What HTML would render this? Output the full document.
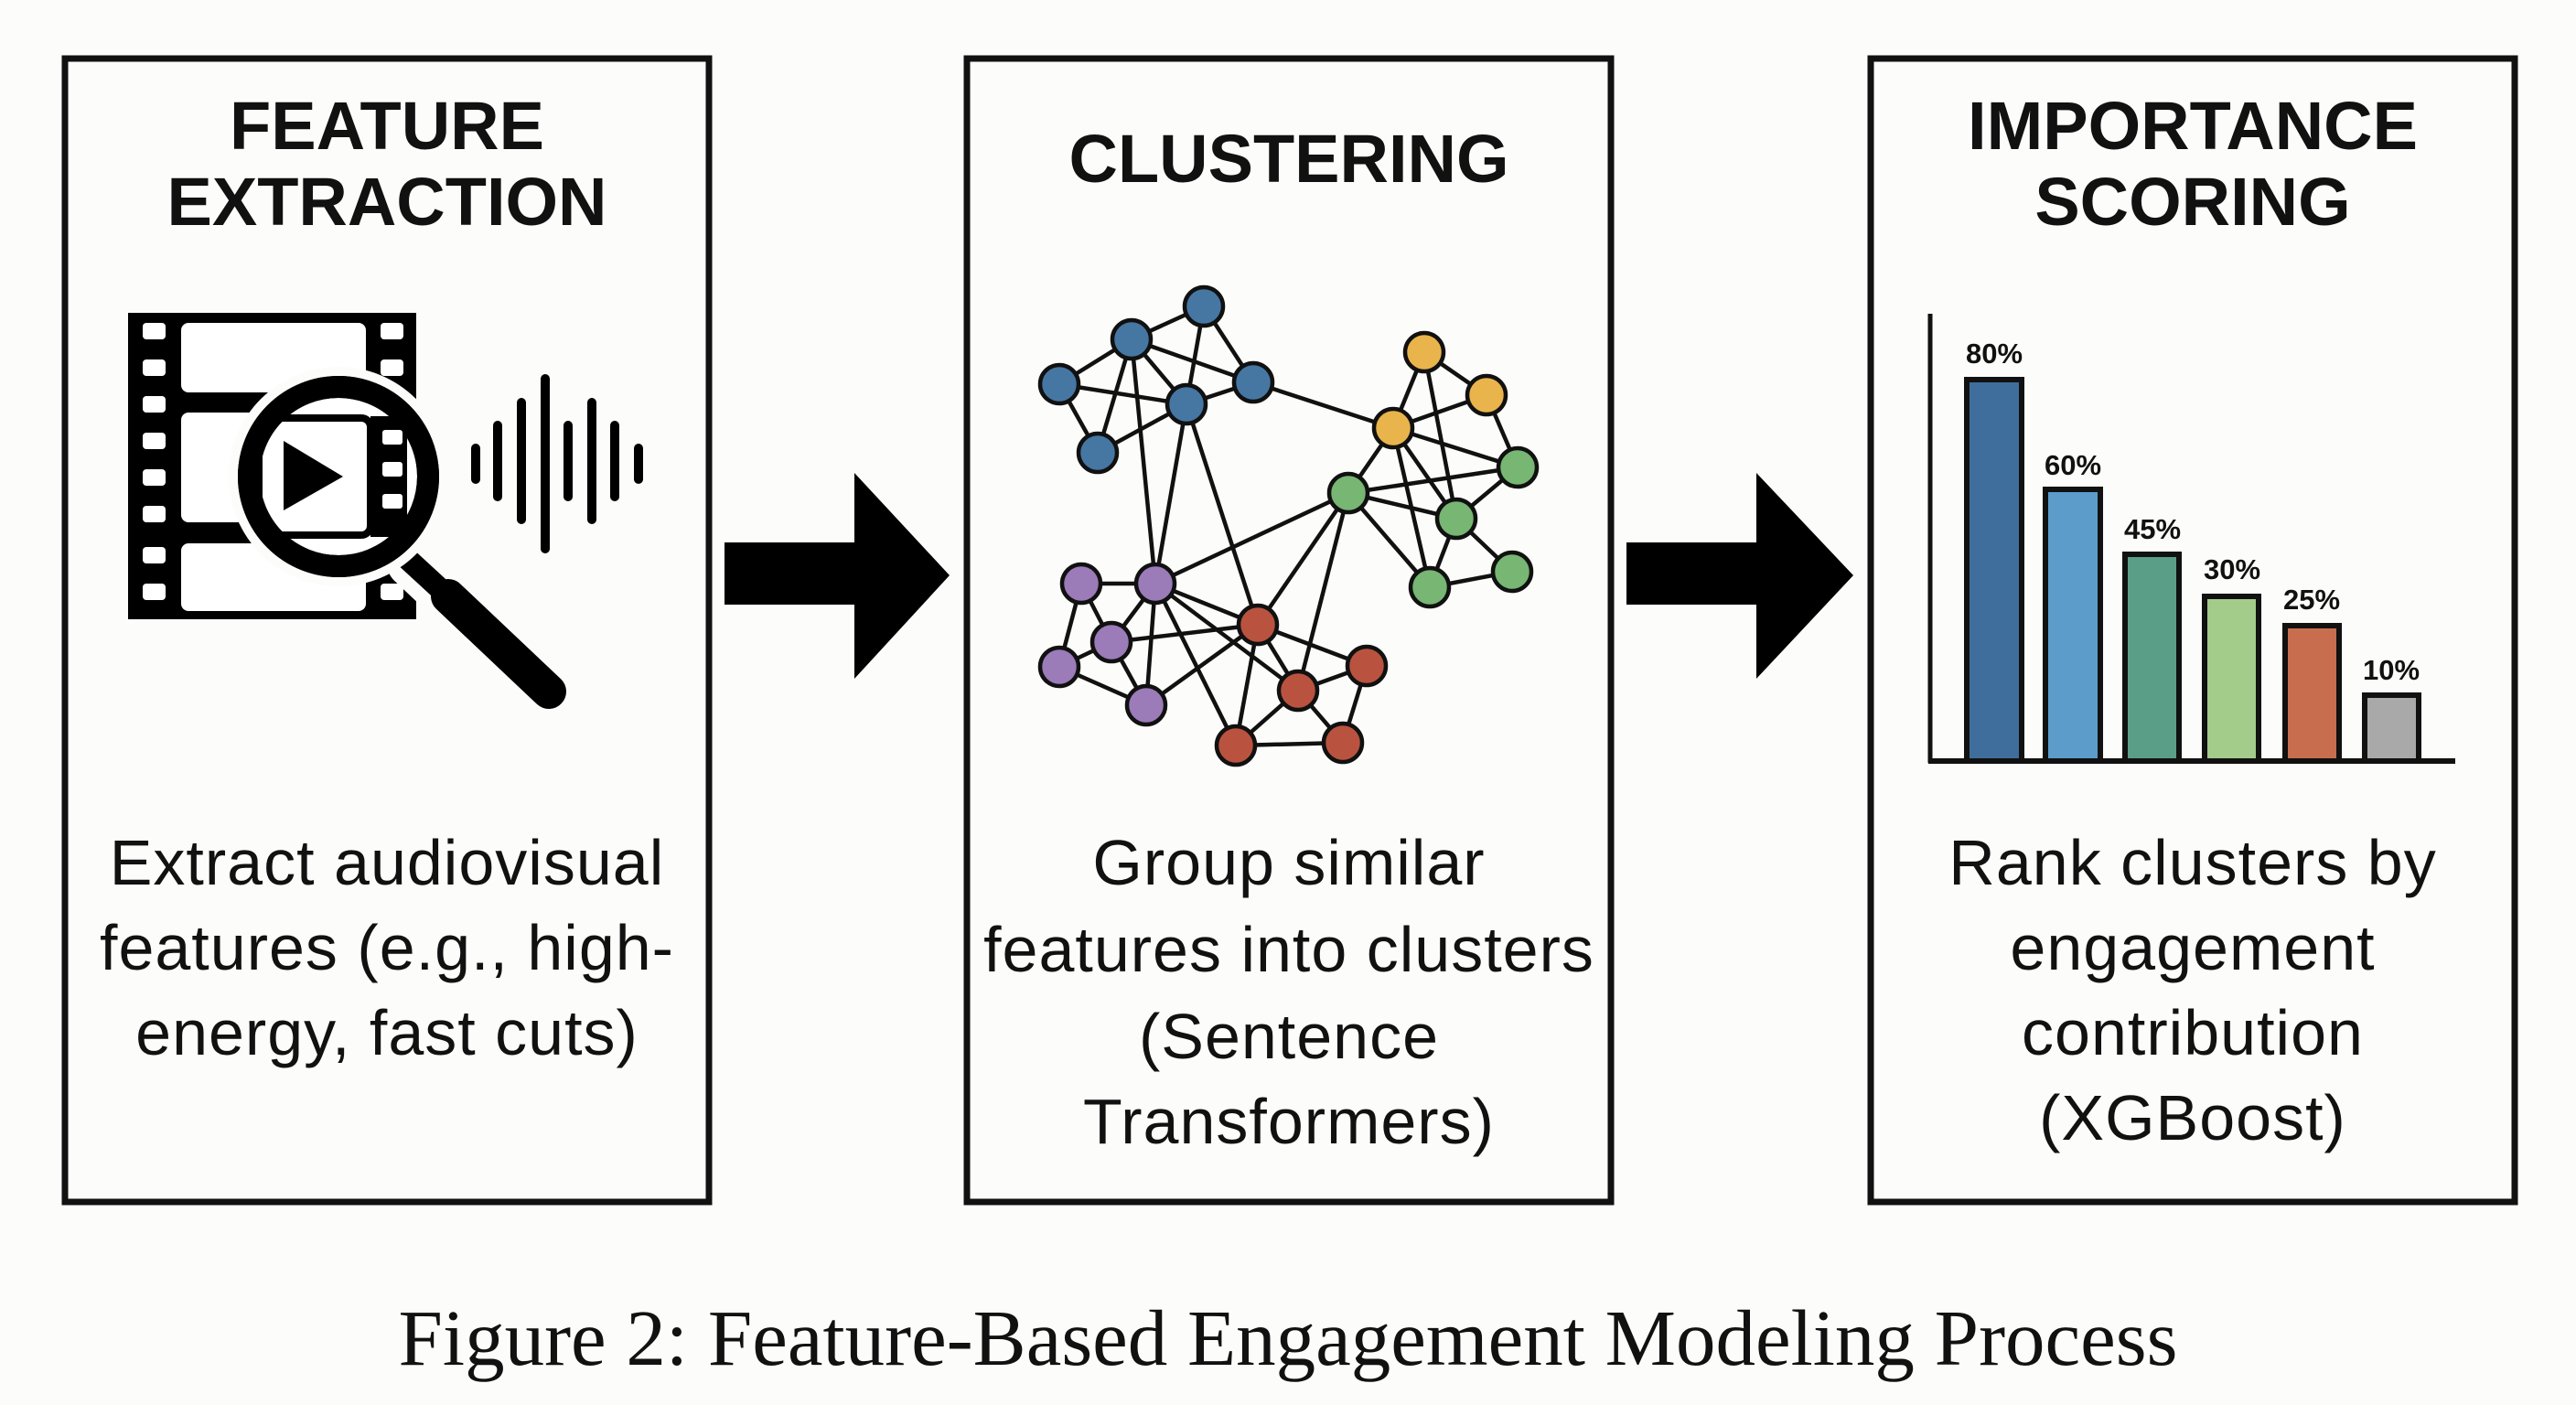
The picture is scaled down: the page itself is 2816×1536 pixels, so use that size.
<!DOCTYPE html>
<html><head><meta charset="utf-8"><style>
html,body{margin:0;padding:0;background:#fcfcfa;}
svg{display:block;}
.t{font-family:"Liberation Sans",Arial,sans-serif;font-weight:bold;font-size:74px;text-anchor:middle;fill:#111;}
.b{font-family:"Liberation Sans",Arial,sans-serif;font-size:70px;text-anchor:middle;fill:#111;letter-spacing:1px;}
.p{font-family:"Liberation Sans",Arial,sans-serif;font-weight:bold;font-size:31px;text-anchor:middle;fill:#111;}
.c{font-family:"Liberation Serif","Times New Roman",serif;font-size:87px;text-anchor:middle;fill:#111;}
</style></head><body>
<svg width="2816" height="1536" viewBox="0 0 2816 1536" xmlns="http://www.w3.org/2000/svg">
<rect width="2816" height="1536" fill="#fcfcfa"/>
<g fill="none" stroke="#111" stroke-width="7">
<rect x="71" y="64" width="704" height="1250"/>
<rect x="1057" y="64" width="704" height="1250"/>
<rect x="2045" y="64" width="704" height="1250"/>
</g>
<polygon points="792,593 934,593 934,517 1038,629 934,742 934,661 792,661" fill="#000"/>
<polygon points="1778,593 1920,593 1920,517 2026,629 1920,742 1920,661 1778,661" fill="#000"/>
<text class="t" x="423" y="163">FEATURE</text>
<text class="t" x="423" y="246">EXTRACTION</text>
<text class="t" x="1409" y="199">CLUSTERING</text>
<text class="t" x="2397" y="163">IMPORTANCE</text>
<text class="t" x="2397" y="246">SCORING</text>
<text class="b" x="423" y="967">Extract audiovisual</text>
<text class="b" x="423" y="1060">features (e.g., high-</text>
<text class="b" x="423" y="1153">energy, fast cuts)</text>
<text class="b" x="1409" y="967">Group similar</text>
<text class="b" x="1409" y="1062">features into clusters</text>
<text class="b" x="1409" y="1157">(Sentence</text>
<text class="b" x="1409" y="1250">Transformers)</text>
<text class="b" x="2397" y="967">Rank clusters by</text>
<text class="b" x="2397" y="1060">engagement</text>
<text class="b" x="2397" y="1153">contribution</text>
<text class="b" x="2397" y="1246">(XGBoost)</text>
<text class="c" x="1408" y="1492">Figure 2: Feature-Based Engagement Modeling Process</text>

<rect x="140" y="342" width="315" height="335" fill="#000"/>
<g fill="#fff">
<rect x="156" y="353" width="25" height="18" rx="4"/>
<rect x="156" y="393" width="25" height="18" rx="4"/>
<rect x="156" y="433" width="25" height="18" rx="4"/>
<rect x="156" y="473" width="25" height="18" rx="4"/>
<rect x="156" y="513" width="25" height="18" rx="4"/>
<rect x="156" y="553" width="25" height="18" rx="4"/>
<rect x="156" y="598" width="25" height="18" rx="4"/>
<rect x="156" y="638" width="25" height="18" rx="4"/>
<rect x="416" y="353" width="25" height="18" rx="4"/>
<rect x="416" y="393" width="25" height="18" rx="4"/>
<rect x="416" y="638" width="25" height="18" rx="4"/>
<rect x="198" y="353" width="202" height="76" rx="8"/>
<rect x="198" y="451" width="202" height="120" rx="8"/>
<rect x="198" y="594" width="202" height="74" rx="8"/>
</g>
<line x1="449" y1="616" x2="600" y2="758" stroke="#fcfcfa" stroke-width="52" stroke-linecap="round"/>
<line x1="440" y1="606" x2="490" y2="652" stroke="#000" stroke-width="24"/>
<line x1="490" y1="652" x2="600" y2="756" stroke="#000" stroke-width="38" stroke-linecap="round"/>
<circle cx="370" cy="521" r="120" fill="#fcfcfa"/>
<circle cx="370" cy="521" r="98" fill="#fff" stroke="#000" stroke-width="24"/>
<rect x="283" y="457" width="122" height="128" rx="10" fill="none" stroke="#000" stroke-width="8"/>
<rect x="405" y="455" width="40" height="132" fill="#000"/>
<rect x="418" y="470" width="22" height="16" rx="3" fill="#fff"/>
<rect x="418" y="505" width="22" height="16" rx="3" fill="#fff"/>
<rect x="418" y="540" width="22" height="16" rx="3" fill="#fff"/>
<circle cx="370" cy="521" r="98" fill="none" stroke="#000" stroke-width="24"/>
<polygon points="310,482 310,558 375,521" fill="#000"/>
<g stroke="#000" stroke-width="10" stroke-linecap="round">
<line x1="520" y1="490" x2="520" y2="524"/>
<line x1="544" y1="465" x2="544" y2="543"/>
<line x1="570" y1="440" x2="570" y2="568"/>
<line x1="596" y1="414" x2="596" y2="600"/>
<line x1="621" y1="465" x2="621" y2="543"/>
<line x1="647" y1="440" x2="647" y2="568"/>
<line x1="672" y1="465" x2="672" y2="543"/>
<line x1="698" y1="490" x2="698" y2="524"/>
</g>

<g stroke="#111" stroke-width="4.5">
<line x1="1237" y1="371" x2="1316" y2="335"/>
<line x1="1316" y1="335" x2="1297" y2="442"/>
<line x1="1316" y1="335" x2="1370" y2="418"/>
<line x1="1237" y1="371" x2="1158" y2="420"/>
<line x1="1237" y1="371" x2="1297" y2="442"/>
<line x1="1237" y1="371" x2="1370" y2="418"/>
<line x1="1237" y1="371" x2="1200" y2="495"/>
<line x1="1158" y1="420" x2="1297" y2="442"/>
<line x1="1158" y1="420" x2="1200" y2="495"/>
<line x1="1200" y1="495" x2="1297" y2="442"/>
<line x1="1297" y1="442" x2="1370" y2="418"/>
<line x1="1237" y1="371" x2="1263" y2="638"/>
<line x1="1297" y1="442" x2="1263" y2="638"/>
<line x1="1297" y1="442" x2="1375" y2="683"/>
<line x1="1370" y1="418" x2="1523" y2="468"/>
<line x1="1557" y1="385" x2="1625" y2="432"/>
<line x1="1557" y1="385" x2="1523" y2="468"/>
<line x1="1557" y1="385" x2="1592" y2="567"/>
<line x1="1625" y1="432" x2="1523" y2="468"/>
<line x1="1625" y1="432" x2="1659" y2="511"/>
<line x1="1523" y1="468" x2="1659" y2="511"/>
<line x1="1523" y1="468" x2="1474" y2="539"/>
<line x1="1523" y1="468" x2="1592" y2="567"/>
<line x1="1523" y1="468" x2="1563" y2="642"/>
<line x1="1474" y1="539" x2="1659" y2="511"/>
<line x1="1474" y1="539" x2="1592" y2="567"/>
<line x1="1474" y1="539" x2="1563" y2="642"/>
<line x1="1474" y1="539" x2="1263" y2="638"/>
<line x1="1474" y1="539" x2="1375" y2="683"/>
<line x1="1474" y1="539" x2="1419" y2="755"/>
<line x1="1659" y1="511" x2="1592" y2="567"/>
<line x1="1592" y1="567" x2="1563" y2="642"/>
<line x1="1592" y1="567" x2="1653" y2="625"/>
<line x1="1653" y1="625" x2="1563" y2="642"/>
<line x1="1182" y1="638" x2="1263" y2="638"/>
<line x1="1182" y1="638" x2="1215" y2="702"/>
<line x1="1182" y1="638" x2="1158" y2="729"/>
<line x1="1263" y1="638" x2="1215" y2="702"/>
<line x1="1263" y1="638" x2="1253" y2="771"/>
<line x1="1263" y1="638" x2="1375" y2="683"/>
<line x1="1263" y1="638" x2="1419" y2="755"/>
<line x1="1263" y1="638" x2="1351" y2="815"/>
<line x1="1215" y1="702" x2="1375" y2="683"/>
<line x1="1215" y1="702" x2="1253" y2="771"/>
<line x1="1158" y1="729" x2="1253" y2="771"/>
<line x1="1158" y1="729" x2="1215" y2="702"/>
<line x1="1253" y1="771" x2="1375" y2="683"/>
<line x1="1375" y1="683" x2="1494" y2="728"/>
<line x1="1375" y1="683" x2="1419" y2="755"/>
<line x1="1375" y1="683" x2="1351" y2="815"/>
<line x1="1494" y1="728" x2="1419" y2="755"/>
<line x1="1494" y1="728" x2="1468" y2="812"/>
<line x1="1419" y1="755" x2="1351" y2="815"/>
<line x1="1419" y1="755" x2="1468" y2="812"/>
<line x1="1351" y1="815" x2="1468" y2="812"/>
</g>
<g stroke="#111" stroke-width="4.5">
<g fill="#4677a3">
<circle cx="1316" cy="335" r="21"/><circle cx="1237" cy="371" r="21"/><circle cx="1158" cy="420" r="21"/>
<circle cx="1297" cy="442" r="21"/><circle cx="1370" cy="418" r="21"/><circle cx="1200" cy="495" r="21"/>
</g>
<g fill="#e9b44c">
<circle cx="1557" cy="385" r="21"/><circle cx="1625" cy="432" r="21"/><circle cx="1523" cy="468" r="21"/>
</g>
<g fill="#77b673">
<circle cx="1659" cy="511" r="21"/><circle cx="1474" cy="539" r="21"/><circle cx="1592" cy="567" r="21"/>
<circle cx="1653" cy="625" r="21"/><circle cx="1563" cy="642" r="21"/>
</g>
<g fill="#9b7bb8">
<circle cx="1182" cy="638" r="21"/><circle cx="1263" cy="638" r="21"/><circle cx="1215" cy="702" r="21"/>
<circle cx="1158" cy="729" r="21"/><circle cx="1253" cy="771" r="21"/>
</g>
<g fill="#b9533f">
<circle cx="1375" cy="683" r="21"/><circle cx="1494" cy="728" r="21"/><circle cx="1419" cy="755" r="21"/>
<circle cx="1351" cy="815" r="21"/><circle cx="1468" cy="812" r="21"/>
</g>
</g>

<g stroke="#111" stroke-width="6">
<rect x="2150" y="415" width="60" height="417" fill="#3f6e9c"/>
<rect x="2236" y="535" width="60" height="297" fill="#5b9ccb"/>
<rect x="2323" y="606" width="59" height="226" fill="#5a9e87"/>
<rect x="2410" y="652" width="59" height="180" fill="#a3cc8b"/>
<rect x="2498" y="684" width="59" height="148" fill="#c86d4d"/>
<rect x="2585" y="760" width="59" height="72" fill="#a9a9a9"/>
</g>
<line x1="2110" y1="343" x2="2110" y2="834" stroke="#111" stroke-width="5"/>
<line x1="2108" y1="832" x2="2684" y2="832" stroke="#111" stroke-width="6"/>
<text class="p" x="2180" y="397">80%</text>
<text class="p" x="2266" y="519">60%</text>
<text class="p" x="2353" y="589">45%</text>
<text class="p" x="2440" y="633">30%</text>
<text class="p" x="2527" y="666">25%</text>
<text class="p" x="2614" y="743">10%</text>
</svg>
</body></html>
